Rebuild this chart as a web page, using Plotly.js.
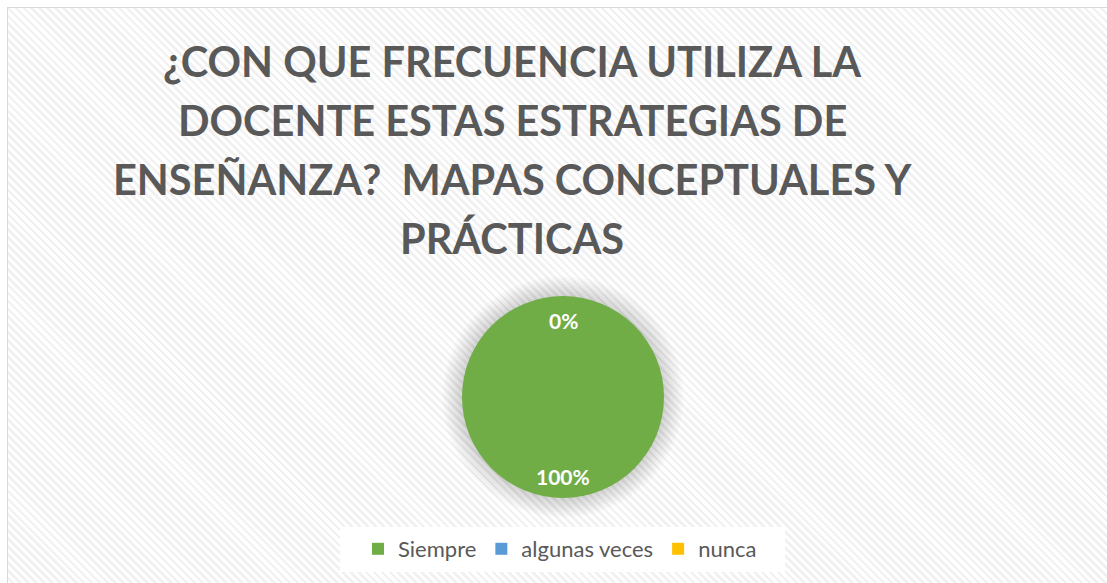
<!DOCTYPE html>
<html>
<head>
<meta charset="utf-8">
<script src="https://cdn.plot.ly/plotly-3.0.1.min.js"></script>
<style>
  html, body { margin:0; padding:0; background:#ffffff; }
  #wrap { position:relative; width:1107px; height:583px; overflow:hidden; background:#ffffff; }
  #bg { position:absolute; left:7px; top:7px; width:1120px; height:600px;
        border:1px solid #d9d9d9;
        background: repeating-linear-gradient(45deg, #ffffff 0px, #ffffff 3px, #f1f1f1 3px, #f1f1f1 5.6px); }
  #chart { position:absolute; left:0; top:0; width:1107px; height:583px; }
</style>
</head>
<body>
<div id="wrap"><div id="bg"></div><div id="chart"></div></div>
<script>
const categories = ["Siempre", "algunas veces", "nunca"];
const values = [100, 0, 0];
const colors = ["#70AD47", "#5B9BD5", "#FFC000"];
const titleLines = [
  "¿CON QUE FRECUENCIA UTILIZA LA",
  "DOCENTE ESTAS ESTRATEGIAS DE",
  "ENSEÑANZA?  MAPAS CONCEPTUALES Y",
  "PRÁCTICAS"
];

const W = 1107, H = 583;
const cx = 563, cy = 397, R = 101;
const total = values.reduce((a,b)=>a+b,0);
const pct = values.map(v => Math.round(v/total*100) + "%");

const annotations = [];
titleLines.forEach((t,i) => {
  annotations.push({
    text: t, xref:'paper', yref:'paper', x: 512/W, y: 1 - (61 + i*59)/H,
    xanchor:'center', yanchor:'middle', showarrow:false,
    font:{family:'Lato, sans-serif', size:41.5, color:'#595959', weight:700}
  });
});
// zero-share labels sit at the start angle (top); the full share label at the bottom
const zeroLabel = pct.find((p,i)=>values[i]===0);
const fullLabel = pct[values.indexOf(Math.max(...values))];
annotations.push({text: zeroLabel, xref:'paper', yref:'paper', x: cx/W, y: 1-320/H,
  showarrow:false, xanchor:'center', yanchor:'middle',
  font:{family:'Lato, sans-serif', size:21, color:'#ffffff', weight:700}});
annotations.push({text: fullLabel, xref:'paper', yref:'paper', x: cx/W, y: 1-476/H,
  showarrow:false, xanchor:'center', yanchor:'middle',
  font:{family:'Lato, sans-serif', size:21, color:'#ffffff', weight:700}});

const shapes = [];
for (let k = 0; k < 8; k++) {
  const r = R + 2 + k*2.5;
  shapes.push({type:'circle', xref:'paper', yref:'paper', layer:'below',
    x0:(cx-r)/W, x1:(cx+r)/W, y0:1-(cy+r)/H, y1:1-(cy-r)/H,
    line:{width:0}, fillcolor:'rgba(0,0,0,0.018)'});
}
// white legend panel
shapes.push({type:'rect', xref:'paper', yref:'paper', layer:'below',
  x0:340/W, x1:785/W, y0:1-572/H, y1:1-527/H, line:{width:0}, fillcolor:'#ffffff'});

const data = [{
  type:'pie', labels:categories, values:values, sort:false,
  direction:'clockwise', rotation:0,
  marker:{colors:colors, line:{width:0}},
  textinfo:'none', hoverinfo:'label+percent',
  domain:{x:[(cx-R)/W,(cx+R)/W], y:[1-(cy+R)/H, 1-(cy-R)/H]}
}];

const layout = {
  width:W, height:H, margin:{l:0,r:0,t:0,b:0},
  paper_bgcolor:'rgba(0,0,0,0)', plot_bgcolor:'rgba(0,0,0,0)',
  showlegend:true,
  legend:{orientation:'h', x:560/W, xanchor:'center', y:1-549/H, yanchor:'middle',
    bgcolor:'rgba(0,0,0,0)', font:{family:'Lato, sans-serif', size:22, color:'#595959'},
    itemwidth:30, tracegroupgap:0},
  annotations:annotations, shapes:shapes
};
Plotly.newPlot('chart', data, layout, {displayModeBar:false, staticPlot:true});
</script>
</body>
</html>
